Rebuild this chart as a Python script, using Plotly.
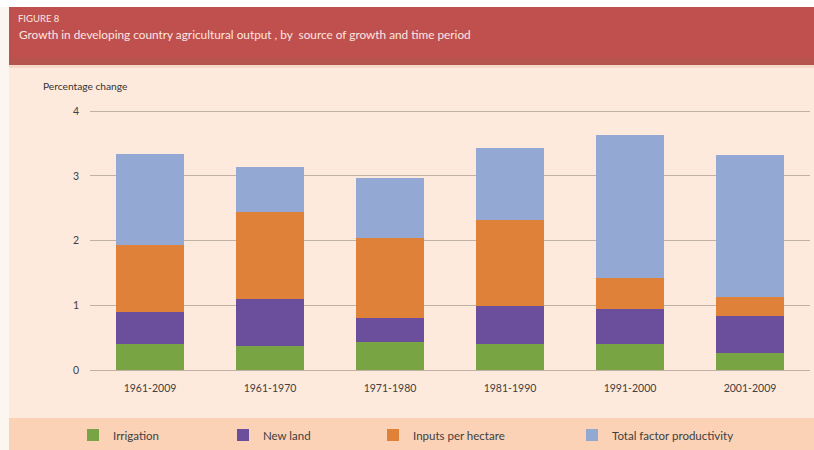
import plotly.graph_objects as go

categories = ["1961-2009", "1961-1970", "1971-1980", "1981-1990", "1991-2000", "2001-2009"]
irrigation = [0.40, 0.37, 0.44, 0.40, 0.40, 0.26]
new_land = [0.49, 0.72, 0.37, 0.59, 0.54, 0.58]
inputs_per_hectare = [1.05, 1.35, 1.23, 1.33, 0.48, 0.29]
tfp = [1.40, 0.70, 0.93, 1.11, 2.21, 2.20]

series_names = ["Irrigation", "New land", "Inputs per hectare", "Total factor productivity"]
series_values = [irrigation, new_land, inputs_per_hectare, tfp]
series_colors = ["#78a443", "#6b4e9c", "#e0813a", "#93a9d4"]

W, H = 814, 450
L, R, T, B = 90, 4, 108, 80


def px(x):
    return (x - L) / (W - L - R)


def py(y):
    return (H - B - y) / (H - T - B)


legend_ids = ["legend", "legend2", "legend3", "legend4"]
legend_text_x = [114, 264, 414, 613]

fig = go.Figure()
for name, vals, col, lid in zip(series_names, series_values, series_colors, legend_ids):
    fig.add_trace(go.Bar(x=categories, y=vals, name=name, marker_color=col,
                         marker_line_width=0, width=0.57, legend=lid))

shapes = [
    dict(type="rect", xref="paper", yref="paper", x0=px(9), x1=px(814), y0=py(64), y1=py(7),
         fillcolor="#c0504d", line_width=0, layer="below"),
    dict(type="rect", xref="paper", yref="paper", x0=px(9), x1=px(814), y0=py(65), y1=py(58),
         fillcolor="#b5544c", line_width=0, layer="below"),
    dict(type="rect", xref="paper", yref="paper", x0=px(9), x1=px(814), y0=py(68), y1=py(65),
         fillcolor="#f6d8c8", line_width=0, layer="below"),
    dict(type="rect", xref="paper", yref="paper", x0=px(9), x1=px(814), y0=py(450), y1=py(418),
         fillcolor="#fbd2b6", line_width=0, layer="below"),
    dict(type="rect", xref="paper", yref="paper", x0=px(0), x1=px(9), y0=py(450), y1=py(0),
         fillcolor="#fbf6f0", line_width=0, layer="below"),
    dict(type="rect", xref="paper", yref="paper", x0=px(0), x1=px(814), y0=py(7), y1=py(0),
         fillcolor="#ffffff", line_width=0, layer="below"),
]

annotations = [
    dict(text="FIGURE 8", xref="paper", yref="paper", x=px(16), y=py(18), xanchor="left",
         yanchor="middle", showarrow=False, font=dict(size=9.5, color="#fbe6e2", family="Lato")),
    dict(text="Growth in developing country agricultural output , by  source of growth and time period",
         xref="paper", yref="paper", x=px(17), y=py(34), xanchor="left", yanchor="middle",
         showarrow=False, font=dict(size=11.8, color="#fbe6e2", family="Lato")),
    dict(text="Percentage change", xref="paper", yref="paper", x=px(41), y=py(86), xanchor="left",
         yanchor="middle", showarrow=False, font=dict(size=10.2, color="#333333", family="Lato")),
]

layout_legends = {}
for lid, tx in zip(legend_ids, legend_text_x):
    layout_legends[lid] = dict(orientation="h", x=px(tx - 41), xanchor="left", y=py(435),
                               yanchor="middle", font=dict(size=11.5, color="#404040", family="Lato"),
                               itemwidth=30, bgcolor="rgba(0,0,0,0)")

fig.update_layout(
    width=W, height=H,
    margin=dict(l=L, r=R, t=T, b=B, autoexpand=False),
    barmode="stack",
    paper_bgcolor="#fdeadd",
    plot_bgcolor="rgba(0,0,0,0)",
    font=dict(family="Lato", size=10, color="#404040"),
    shapes=shapes,
    annotations=annotations,
    showlegend=True,
    **layout_legends,
)
fig.update_xaxes(showgrid=False, showline=False, ticks="", ticklabelstandoff=10,
                 tickfont=dict(size=10.5, color="#404040"))
fig.update_yaxes(range=[0, 4.05], tickvals=[0, 1, 2, 3, 4], showgrid=True, gridcolor="#bfb1a6",
                 gridwidth=1, zeroline=True, zerolinecolor="#bfb1a6", zerolinewidth=1,
                 ticks="", ticklabelstandoff=10, tickfont=dict(size=10.5, color="#404040"))

fig.write_html("out.html", config={"displayModeBar": False},
               post_script="document.body.style.margin='0';document.body.style.overflow='hidden';")
